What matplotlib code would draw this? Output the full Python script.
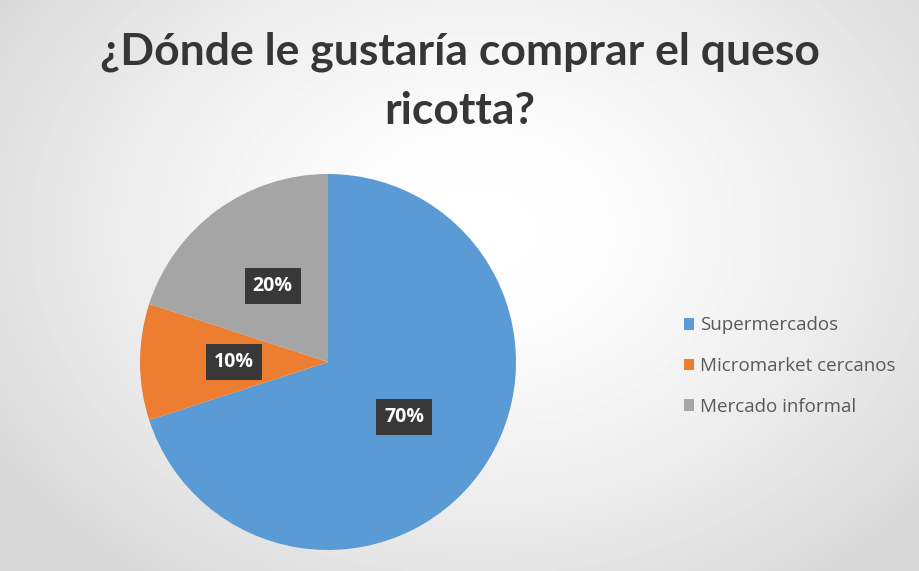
import numpy as np
import matplotlib.pyplot as plt
from matplotlib.patches import Patch

labels = ["Supermercados", "Micromarket cercanos", "Mercado informal"]
shares = [70, 10, 20]
colors = ["#5B9BD5", "#ED7D31", "#A5A5A5"]
title = "¿Dónde le gustaría comprar el queso\nricotta?"

W, H = 919, 571
fig = plt.figure(figsize=(W / 100, H / 100), dpi=100)

# soft radial background
bg = fig.add_axes([0, 0, 1, 1])
yy, xx = np.mgrid[0:H, 0:W]
d = np.sqrt(((xx - 480) / 560) ** 2 + ((yy - 230) / 430) ** 2)
shade = 1.0 - 0.15 * np.clip(d, 0, 1) ** 1.6
bg.imshow(shade, cmap="gray", vmin=0, vmax=1, aspect="auto")
bg.axis("off")

fig.text(0.5, 1 - 32 / H, title, ha="center", va="top", fontsize=32,
         fontweight="bold", color="#363636", family="Lato", linespacing=1.55)

# pie placed by pixel centre and radius
cx, cy, r = 328, 362, 188
ax = fig.add_axes([(cx - r) / W, (H - cy - r) / H, 2 * r / W, 2 * r / H])
wedges, texts, autotexts = ax.pie(
    shares, colors=colors, startangle=90, counterclock=False,
    autopct="%d%%", pctdistance=0.5, radius=1,
    wedgeprops=dict(linewidth=0),
    textprops=dict(color="white", fontsize=14, fontweight="bold", family="Open Sans"))
for t in autotexts:
    t.set_bbox(dict(boxstyle="square,pad=0.4", fc="#383838", ec="none"))
ax.set_xlim(-1, 1)
ax.set_ylim(-1, 1)
ax.set_aspect("equal")

handles = [Patch(facecolor=c, edgecolor="none") for c in colors]
fig.legend(handles, labels, loc="center left", bbox_to_anchor=(667 / W, 1 - 366 / H),
           frameon=False, handlelength=0.55, handleheight=0.55,
           handletextpad=0.3, labelspacing=1.2, labelcolor="#595959",
           prop=dict(family="Open Sans", size=13.5))

fig.savefig("out.png", dpi=100)
